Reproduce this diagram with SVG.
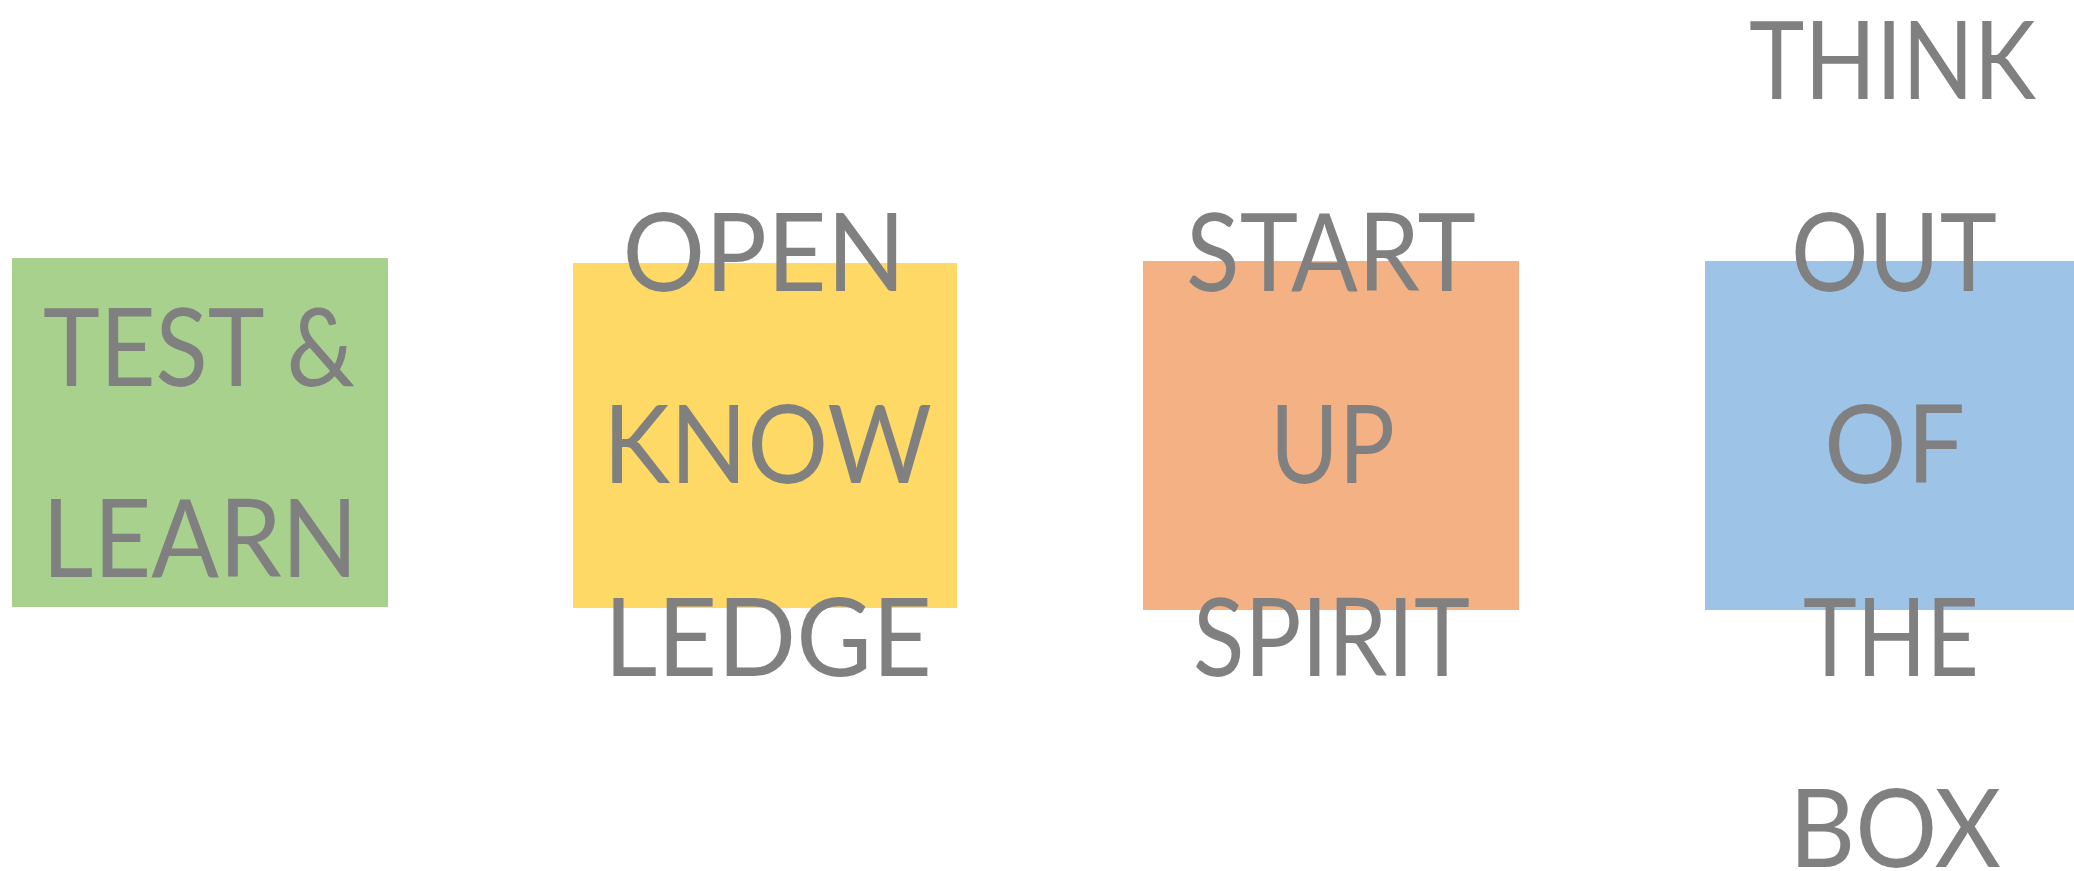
<svg xmlns="http://www.w3.org/2000/svg" width="2074" height="871" viewBox="0 0 2074 871">
<style>
.t{font-family:Lato,"Liberation Sans",sans-serif;font-size:108px;fill:#808080;text-anchor:middle}
</style>
<rect x="0" y="0" width="2074" height="871" fill="#ffffff"/>
<g id="test-learn">
<rect x="12" y="258" width="376" height="349" fill="#A9D18E"/>
<text class="t" x="199" y="386" textLength="312" lengthAdjust="spacingAndGlyphs">TEST &amp;</text>
<text class="t" x="200" y="577" textLength="316" lengthAdjust="spacingAndGlyphs">LEARN</text>
</g>
<g id="open-knowledge">
<rect x="573" y="263" width="384" height="345" fill="#FFD966"/>
<text class="t" x="764" y="291" textLength="283" lengthAdjust="spacingAndGlyphs">OPEN</text>
<text class="t" x="767.5" y="483" textLength="329" lengthAdjust="spacingAndGlyphs">KNOW</text>
<text class="t" x="768" y="676" textLength="328" lengthAdjust="spacingAndGlyphs">LEDGE</text>
</g>
<g id="startup-spirit">
<rect x="1143" y="261" width="376" height="349" fill="#F4B183"/>
<text class="t" x="1331" y="291" textLength="290" lengthAdjust="spacingAndGlyphs">START</text>
<text class="t" x="1332.5" y="483" textLength="125" lengthAdjust="spacingAndGlyphs">UP</text>
<text class="t" x="1331.5" y="676" textLength="277" lengthAdjust="spacingAndGlyphs">SPIRIT</text>
</g>
<g id="think-out-of-the-box">
<rect x="1705" y="261" width="369" height="349" fill="#9DC3E6"/>
<text class="t" x="1892.5" y="99" textLength="287" lengthAdjust="spacingAndGlyphs">THINK</text>
<text class="t" x="1894" y="291" textLength="206" lengthAdjust="spacingAndGlyphs">OUT</text>
<text class="t" x="1894.5" y="483" textLength="141" lengthAdjust="spacingAndGlyphs">OF</text>
<text class="t" x="1891" y="676" textLength="176" lengthAdjust="spacingAndGlyphs">THE</text>
<text class="t" x="1895" y="867" textLength="212" lengthAdjust="spacingAndGlyphs">BOX</text>
</g>
</svg>
